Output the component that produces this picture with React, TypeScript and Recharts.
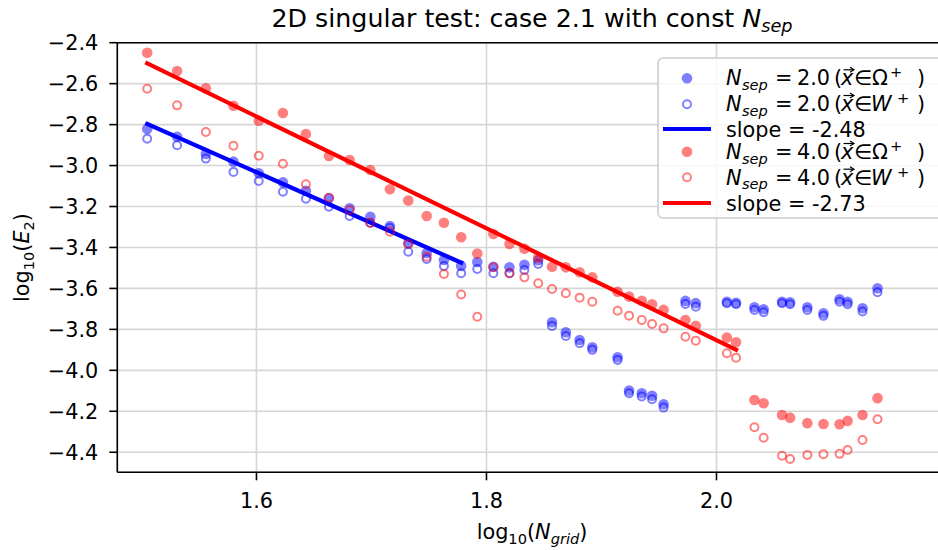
import React from 'react';
import { ScatterChart, Scatter, XAxis, YAxis, CartesianGrid, ReferenceLine } from 'recharts';

// x = log10(N_grid)
const logNgrid = [
  1.505, 1.531, 1.556, 1.580, 1.602, 1.623, 1.643, 1.663, 1.681, 1.699,
  1.716, 1.732, 1.748, 1.763, 1.778, 1.792, 1.806, 1.820, 1.833, 1.845,
  1.857, 1.869, 1.881, 1.892, 1.914, 1.924, 1.935, 1.944, 1.954, 1.973,
  1.982, 2.009, 2.017, 2.033, 2.041, 2.057, 2.064, 2.079, 2.093, 2.107,
  2.114, 2.127, 2.140,
];

// N_sep = 2.0, x in Omega+
const nsep2Omega = [
  -2.821, -2.859, -2.943, -2.981, -3.038, -3.082, -3.123, -3.160, -3.209, -3.250,
  -3.295, -3.380, -3.427, -3.461, -3.490, -3.471, -3.494, -3.497, -3.485, -3.462,
  -3.765, -3.814, -3.852, -3.887, -3.936, -4.099, -4.112, -4.124, -4.166, -3.661,
  -3.672, -3.665, -3.670, -3.692, -3.702, -3.665, -3.668, -3.692, -3.721, -3.653,
  -3.665, -3.697, -3.599,
];

// N_sep = 2.0, x in W+
const nsep2W = [
  -2.869, -2.901, -2.966, -3.031, -3.075, -3.128, -3.162, -3.201, -3.246, -3.280,
  -3.305, -3.421, -3.456, -3.490, -3.526, -3.505, -3.526, -3.526, -3.510, -3.481,
  -3.783, -3.832, -3.868, -3.900, -3.949, -4.112, -4.128, -4.141, -4.182, -3.676,
  -3.689, -3.672, -3.677, -3.705, -3.716, -3.672, -3.677, -3.705, -3.734, -3.665,
  -3.677, -3.713, -3.619,
];

// N_sep = 4.0, x in Omega+
const nsep4Omega = [
  -2.449, -2.538, -2.623, -2.708, -2.781, -2.743, -2.846, -2.953, -2.973, -3.022,
  -3.116, -3.171, -3.246, -3.279, -3.350, -3.430, -3.334, -3.383, -3.406, -3.450,
  -3.494, -3.497, -3.521, -3.546, -3.616, -3.640, -3.660, -3.677, -3.705, -3.754,
  -3.782, -3.840, -3.863, -4.145, -4.161, -4.218, -4.231, -4.258, -4.262, -4.263,
  -4.247, -4.218, -4.136,
];

// N_sep = 4.0, x in W+
const nsep4W = [
  -2.625, -2.706, -2.836, -2.903, -2.952, -2.991, -3.091, -3.157, -3.217, -3.279,
  -3.323, -3.383, -3.445, -3.529, -3.630, -3.738, -3.497, -3.526, -3.546, -3.575,
  -3.603, -3.624, -3.645, -3.665, -3.709, -3.733, -3.754, -3.774, -3.795, -3.836,
  -3.855, -3.917, -3.938, -4.278, -4.329, -4.417, -4.433, -4.413, -4.410, -4.408,
  -4.389, -4.340, -4.239,
];

// fitted lines (end points)
const fit2X = [1.505, 1.778];
const fit2Y = [-2.797, -3.474];
const fit4X = [1.505, 2.017];
const fit4Y = [-2.501, -3.899];

const xTicks = [1.6, 1.8, 2.0];
const yTicks = [-4.4, -4.2, -4.0, -3.8, -3.6, -3.4, -3.2, -3.0, -2.8, -2.6, -2.4];

const slope2Label = 'slope = -2.48';
const slope4Label = 'slope = -2.73';

const FONT = 'DejaVu Sans';
const FS = 20.8;
const BLUE = '#0000ff';
const RED = '#ff0000';

const toPoints = (xs: number[], ys: number[]) => xs.map((x, i) => ({ x, y: ys[i] }));

const filledShape = (color: string) => (props: any) => (
  <circle cx={props.cx} cy={props.cy} r={5.3} fill={color} fillOpacity={0.5} />
);
const hollowShape = (color: string) => (props: any) => (
  <circle cx={props.cx} cy={props.cy} r={4} fill="none" stroke={color} strokeOpacity={0.5} strokeWidth={2} />
);
const noShape = () => <g />;

const fmtY = (v: number) => v.toFixed(1).replace('-', '\u2212');
const fmtX = (v: number) => v.toFixed(1);

function MathLabel({ y, nsep, set }: { y: number; nsep: string; set: string }) {
  const sub = 14.6;
  const isW = set === 'W';
  return (
    <g>
      <text y={y} fontFamily={FONT} fontSize={FS} fill="#000">
        <tspan x={726} fontStyle="italic">N</tspan>
        <tspan x={742} dy={4.5} fontSize={sub} fontStyle="italic">sep</tspan>
        <tspan x={775} dy={-4.5}>=</tspan>
        <tspan x={797}>{nsep}</tspan>
        <tspan x={834}>(</tspan>
        <tspan x={841} fontStyle="italic">x</tspan>
        <tspan x={854}>{'\u2208'}</tspan>
        <tspan x={isW ? 871 : 872} fontStyle={isW ? 'italic' : 'normal'}>{isW ? 'W' : '\u03A9'}</tspan>
        <tspan x={isW ? 897 : 890} dy={-8} fontSize={sub}>+</tspan>
        <tspan x={917} dy={8}>)</tspan>
      </text>
      <path d={`M ${843.5} ${y - 15.5} L ${853} ${y - 15.5}`} stroke="#000" strokeWidth={1.2} />
      <path d={`M ${850} ${y - 18} L ${854} ${y - 15.5} L ${850} ${y - 13}`} stroke="#000" strokeWidth={1.2} fill="none" />
    </g>
  );
}

function Overlay() {
  return (
    <svg width={938} height={550} style={{ position: 'absolute', left: 0, top: 0, pointerEvents: 'none' }}>
      {/* title */}
      <text x={532} y={27} textAnchor="middle" fontFamily={FONT} fontSize={25.3} fill="#000">
        2D singular test: case 2.1 with const <tspan fontStyle="italic">N</tspan>
        <tspan dy={5} fontSize={17.7} fontStyle="italic">sep</tspan>
      </text>
      {/* x label */}
      <text x={532} y={539} textAnchor="middle" fontFamily={FONT} fontSize={FS} fill="#000">
        log<tspan dy={4.5} fontSize={14.6}>10</tspan>
        <tspan dy={-4.5}>(</tspan>
        <tspan fontStyle="italic">N</tspan>
        <tspan dy={4.5} fontSize={14.6} fontStyle="italic">grid</tspan>
        <tspan dy={-4.5}>)</tspan>
      </text>
      {/* y label */}
      <text x={0} y={0} transform="translate(29,257.5) rotate(-90)" textAnchor="middle" fontFamily={FONT} fontSize={FS} fill="#000">
        log<tspan dy={4.5} fontSize={14.6}>10</tspan>
        <tspan dy={-4.5}>(</tspan>
        <tspan fontStyle="italic">E</tspan>
        <tspan dy={4.5} fontSize={14.6}>2</tspan>
        <tspan dy={-4.5}>)</tspan>
      </text>
      {/* legend */}
      <rect x={658} y={58} width={300} height={160} rx={5} fill="#ffffff" fillOpacity={0.8} stroke="#cccccc" strokeWidth={1.6} />
      <circle cx={687} cy={78.3} r={5.3} fill={BLUE} fillOpacity={0.5} />
      <MathLabel y={85.3} nsep="2.0" set="O" />
      <circle cx={687} cy={104.3} r={4} fill="none" stroke={BLUE} strokeOpacity={0.5} strokeWidth={2} />
      <MathLabel y={111} nsep="2.0" set="W" />
      <line x1={663} x2={711} y1={129} y2={129} stroke={BLUE} strokeWidth={4.2} />
      <text x={726} y={136.7} fontFamily={FONT} fontSize={FS} fill="#000">{slope2Label}</text>
      <circle cx={687} cy={151.7} r={5.3} fill={RED} fillOpacity={0.5} />
      <MathLabel y={159} nsep="4.0" set="O" />
      <circle cx={687} cy={177.3} r={4} fill="none" stroke={RED} strokeOpacity={0.5} strokeWidth={2} />
      <MathLabel y={184.7} nsep="4.0" set="W" />
      <line x1={663} x2={711} y1={203} y2={203} stroke={RED} strokeWidth={4.2} />
      <text x={726} y={210.5} fontFamily={FONT} fontSize={FS} fill="#000">{slope4Label}</text>
    </svg>
  );
}

export default function App() {
  const tickStyle = { fontSize: FS, fill: '#000', fontFamily: FONT };
  return (
    <div style={{ position: 'absolute', left: 0, top: 0, width: 938, height: 550, overflow: 'hidden', background: '#fff' }}>
      <ScatterChart width={960} height={550} margin={{ top: 42.7, right: 13.5, bottom: 17.7, left: 17.3 }}>
        <CartesianGrid stroke="#d6d6d6" strokeWidth={1.6} />
        <XAxis
          type="number"
          dataKey="x"
          domain={[1.479, 2.2]}
          ticks={xTicks}
          tickFormatter={fmtX}
          interval={0}
          height={60}
          allowDataOverflow
          tick={tickStyle}
          tickSize={8}
          tickMargin={13}
          axisLine={{ stroke: '#000', strokeWidth: 1.6 }}
          tickLine={{ stroke: '#000', strokeWidth: 1.6 }}
        />
        <YAxis
          type="number"
          dataKey="y"
          domain={[-4.498, -2.4]}
          ticks={yTicks}
          tickFormatter={fmtY}
          interval={0}
          width={100}
          allowDataOverflow
          tick={tickStyle}
          tickSize={8}
          tickMargin={11}
          axisLine={{ stroke: '#000', strokeWidth: 1.6 }}
          tickLine={{ stroke: '#000', strokeWidth: 1.6 }}
        />
        <ReferenceLine y={-2.4} stroke="#000" strokeWidth={1.6} />
        <Scatter data={toPoints(logNgrid, nsep2Omega)} shape={filledShape(BLUE)} isAnimationActive={false} />
        <Scatter data={toPoints(logNgrid, nsep2W)} shape={hollowShape(BLUE)} isAnimationActive={false} />
        <Scatter
          data={toPoints(fit2X, fit2Y)}
          shape={noShape}
          line={{ stroke: BLUE, strokeWidth: 4.2, strokeLinecap: 'square' }}
          isAnimationActive={false}
        />
        <Scatter data={toPoints(logNgrid, nsep4Omega)} shape={filledShape(RED)} isAnimationActive={false} />
        <Scatter data={toPoints(logNgrid, nsep4W)} shape={hollowShape(RED)} isAnimationActive={false} />
        <Scatter
          data={toPoints(fit4X, fit4Y)}
          shape={noShape}
          line={{ stroke: RED, strokeWidth: 4.2, strokeLinecap: 'square' }}
          isAnimationActive={false}
        />
      </ScatterChart>
      <Overlay />
    </div>
  );
}
